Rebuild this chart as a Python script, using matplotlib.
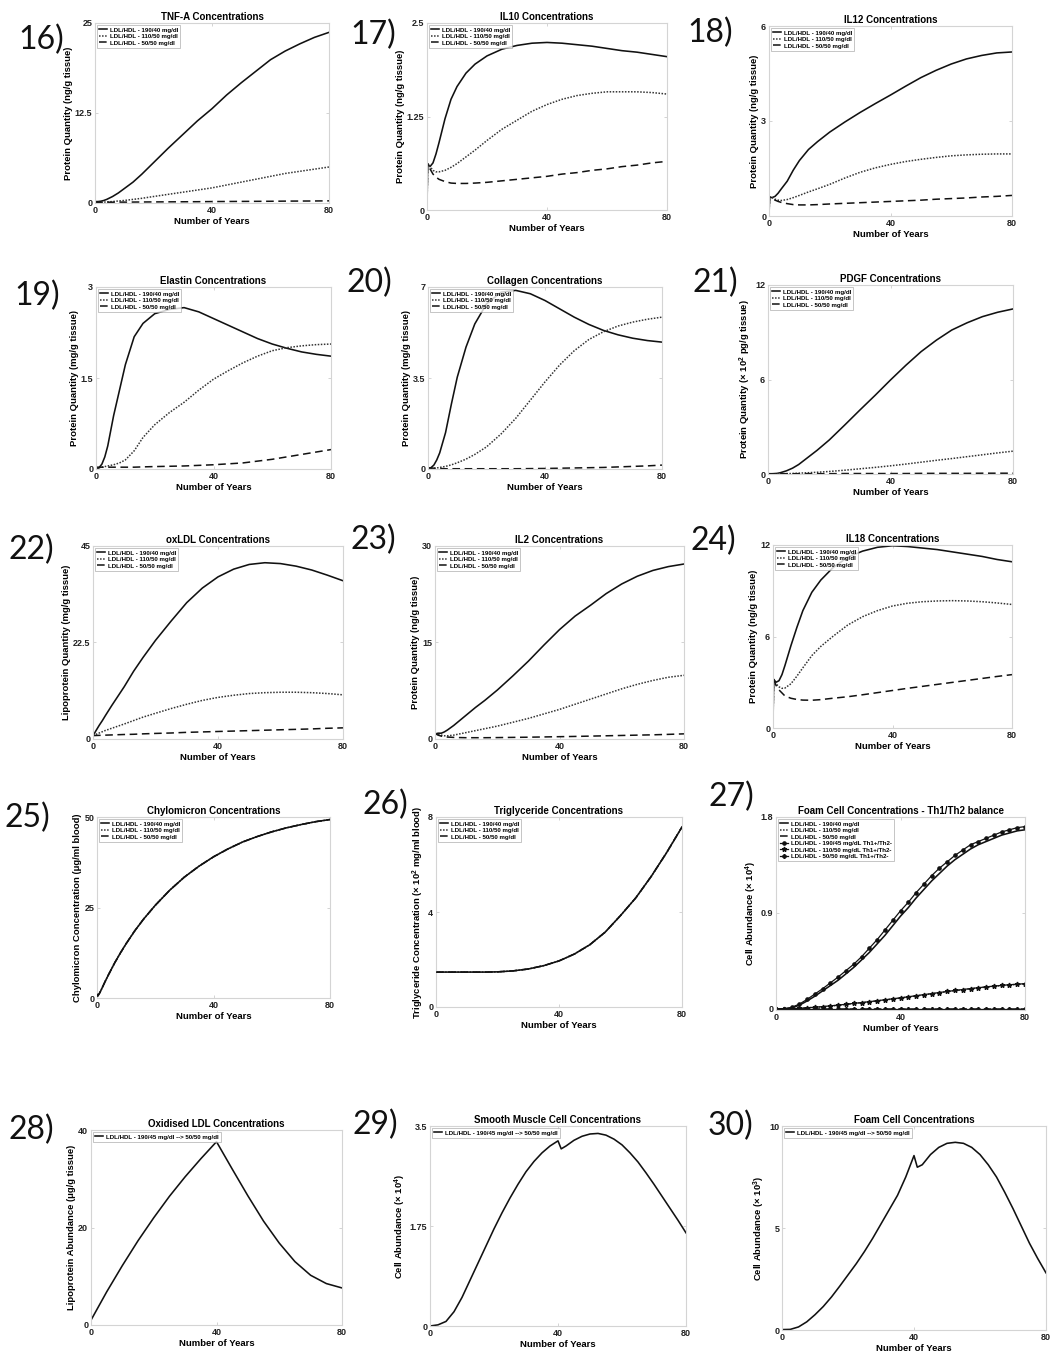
import numpy as np
import matplotlib
matplotlib.use('Agg')
import matplotlib.pyplot as plt

plt.rcParams['font.family'] = ['Liberation Sans', 'DejaVu Sans']
plt.rcParams['font.weight'] = 'bold'
plt.rcParams['mathtext.default'] = 'regular'

# ---------------- data ----------------
YEARS = [0, 0.2, 1, 2, 3, 4, 6, 8, 10, 13, 16, 20, 25, 30, 35, 40, 45, 50, 55, 60, 65, 70, 75, 80]

TNF_190 = [0.2, 0.2, 0.2, 0.25, 0.35, 0.5, 0.9, 1.4, 2.0, 2.9, 4.0, 5.6, 7.6, 9.5, 11.4, 13.1, 15.0, 16.7, 18.3, 19.9, 21.1, 22.1, 23.0, 23.7]
TNF_110 = [0.1, 0.1, 0.1, 0.1, 0.12, 0.15, 0.2, 0.28, 0.35, 0.5, 0.65, 0.9, 1.2, 1.5, 1.8, 2.1, 2.5, 2.9, 3.3, 3.7, 4.1, 4.4, 4.7, 5.0]
TNF_50 = [0.1, 0.1, 0.1, 0.1, 0.1, 0.11, 0.11, 0.12, 0.12, 0.13, 0.14, 0.15, 0.16, 0.17, 0.18, 0.2, 0.21, 0.22, 0.23, 0.24, 0.26, 0.27, 0.28, 0.3]

IL10_190 = [0, 0.62, 0.58, 0.63, 0.75, 0.9, 1.22, 1.48, 1.65, 1.83, 1.95, 2.06, 2.15, 2.2, 2.23, 2.24, 2.23, 2.21, 2.19, 2.16, 2.13, 2.11, 2.08, 2.05]
IL10_110 = [0, 0.62, 0.58, 0.53, 0.51, 0.51, 0.53, 0.57, 0.62, 0.71, 0.8, 0.93, 1.08, 1.2, 1.32, 1.41, 1.48, 1.53, 1.56, 1.58, 1.58, 1.58, 1.57, 1.55]
IL10_50 = [0, 0.6, 0.55, 0.48, 0.44, 0.41, 0.38, 0.36, 0.355, 0.355, 0.36, 0.37, 0.39, 0.41, 0.43, 0.45, 0.48, 0.5, 0.53, 0.55, 0.58, 0.6, 0.63, 0.65]

IL12_190 = [0, 0.6, 0.58, 0.62, 0.72, 0.85, 1.1, 1.45, 1.75, 2.1, 2.35, 2.65, 2.97, 3.27, 3.55, 3.82, 4.1, 4.37, 4.6, 4.8, 4.96, 5.07, 5.15, 5.18]
IL12_110 = [0, 0.6, 0.58, 0.53, 0.5, 0.49, 0.52, 0.58, 0.65, 0.76, 0.86, 1.0, 1.2, 1.38, 1.52, 1.63, 1.72, 1.79, 1.85, 1.9, 1.93, 1.95, 1.96, 1.96]
IL12_50 = [0, 0.6, 0.55, 0.5, 0.46, 0.43, 0.39, 0.36, 0.35, 0.35, 0.36, 0.38, 0.4, 0.42, 0.44, 0.46, 0.48, 0.5, 0.53, 0.55, 0.57, 0.6, 0.62, 0.65]

EL_190 = [0, 0, 0.02, 0.08, 0.2, 0.38, 0.88, 1.3, 1.72, 2.18, 2.4, 2.56, 2.63, 2.66, 2.59, 2.48, 2.37, 2.26, 2.15, 2.06, 1.99, 1.93, 1.89, 1.86]
EL_110 = [0, 0.01, 0.02, 0.03, 0.04, 0.05, 0.07, 0.1, 0.15, 0.3, 0.52, 0.73, 0.93, 1.1, 1.3, 1.48, 1.62, 1.75, 1.86, 1.95, 2.0, 2.03, 2.05, 2.06]
EL_50 = [0.03, 0.03, 0.03, 0.03, 0.03, 0.03, 0.03, 0.03, 0.03, 0.03, 0.035, 0.04, 0.045, 0.05, 0.06, 0.07, 0.085, 0.1, 0.13, 0.16, 0.2, 0.24, 0.28, 0.32]

COL_190 = [0, 0, 0.05, 0.15, 0.35, 0.62, 1.4, 2.5, 3.53, 4.69, 5.58, 6.35, 6.8, 6.87, 6.74, 6.48, 6.16, 5.84, 5.56, 5.33, 5.16, 5.03, 4.94, 4.88]
COL_110 = [0, 0.01, 0.02, 0.03, 0.04, 0.06, 0.1, 0.16, 0.24, 0.38, 0.56, 0.85, 1.35, 1.95, 2.65, 3.35, 4.0, 4.55, 4.98, 5.28, 5.5, 5.65, 5.76, 5.84]
COL_50 = [0.05, 0.05, 0.04, 0.03, 0.02, 0.02, 0.01, 0.01, 0.01, 0.01, 0.01, 0.01, 0.01, 0.01, 0.015, 0.02, 0.03, 0.04, 0.05, 0.06, 0.08, 0.1, 0.12, 0.15]

PDGF_190 = [0, 0, 0.01, 0.02, 0.04, 0.08, 0.2, 0.37, 0.6, 1.05, 1.5, 2.16, 3.1, 4.06, 5.0, 5.97, 6.9, 7.77, 8.5, 9.14, 9.6, 9.99, 10.27, 10.48]
PDGF_110 = [0, 0, 0, 0, 0.01, 0.01, 0.02, 0.03, 0.05, 0.08, 0.11, 0.16, 0.24, 0.33, 0.42, 0.52, 0.63, 0.75, 0.87, 0.98, 1.1, 1.22, 1.34, 1.45]
PDGF_50 = [0.02, 0.02, 0.02, 0.02, 0.02, 0.02, 0.02, 0.02, 0.02, 0.02, 0.02, 0.02, 0.03, 0.03, 0.03, 0.03, 0.03, 0.04, 0.04, 0.04, 0.04, 0.05, 0.05, 0.05]

OX_190 = [0.8, 1.0, 2.0, 3.2, 4.3, 5.5, 7.8, 10.0, 12.2, 15.8, 19.0, 23.0, 27.5, 31.8, 35.2, 37.8, 39.6, 40.7, 41.1, 40.9, 40.3, 39.4, 38.2, 36.9]
OX_110 = [0.8, 0.9, 1.1, 1.4, 1.7, 2.0, 2.5, 3.0, 3.5, 4.3, 5.1, 6.0, 7.1, 8.1, 9.0, 9.7, 10.2, 10.6, 10.8, 10.9, 10.9, 10.8, 10.6, 10.3]
OX_50 = [0.8, 0.8, 0.82, 0.85, 0.87, 0.9, 0.95, 1.0, 1.05, 1.1, 1.2, 1.3, 1.4, 1.55, 1.65, 1.75, 1.85, 1.95, 2.05, 2.15, 2.25, 2.35, 2.5, 2.6]

IL2_190 = [0.6, 0.8, 0.9, 0.9, 1.1, 1.4, 2.1, 2.9, 3.7, 4.9, 6.0, 7.6, 9.8, 12.1, 14.6, 17.0, 19.1, 20.8, 22.6, 24.1, 25.3, 26.2, 26.8, 27.2]
IL2_110 = [0.8, 0.8, 0.7, 0.6, 0.5, 0.5, 0.6, 0.8, 1.0, 1.3, 1.6, 2.0, 2.6, 3.2, 3.9, 4.6, 5.4, 6.2, 7.0, 7.8, 8.5, 9.1, 9.6, 9.9]
IL2_50 = [0.8, 0.8, 0.6, 0.45, 0.35, 0.3, 0.25, 0.22, 0.2, 0.2, 0.2, 0.22, 0.25, 0.28, 0.32, 0.36, 0.4, 0.45, 0.5, 0.55, 0.6, 0.65, 0.72, 0.8]

IL18_190 = [0, 3.2, 3.0, 3.1, 3.5, 4.1, 5.4, 6.6, 7.7, 8.9, 9.7, 10.5, 11.2, 11.6, 11.85, 11.95, 11.9, 11.8, 11.7, 11.55, 11.4, 11.25, 11.05, 10.9]
IL18_110 = [0, 3.2, 2.9, 2.7, 2.6, 2.62, 2.9, 3.4, 3.95, 4.75, 5.35, 6.0, 6.75, 7.3, 7.7, 8.0, 8.18, 8.28, 8.33, 8.35, 8.33, 8.28, 8.2, 8.1]
IL18_50 = [0, 3.2, 2.8, 2.5, 2.3, 2.1, 1.95, 1.87, 1.83, 1.82, 1.86, 1.95, 2.05, 2.18, 2.32, 2.46, 2.6, 2.73, 2.86, 2.99, 3.12, 3.25, 3.38, 3.5]

CHYLO = [1.0, 0.5, 1.5, 3.2, 4.9, 6.5, 9.6, 12.4, 15.0, 18.6, 21.8, 25.6, 29.8, 33.4, 36.4, 39.0, 41.2, 43.1, 44.6, 45.9, 47.0, 47.9, 48.7, 49.3]
TRIG = [1.47, 1.47, 1.47, 1.47, 1.47, 1.47, 1.47, 1.47, 1.47, 1.47, 1.47, 1.48, 1.52, 1.6, 1.74, 1.94, 2.23, 2.62, 3.15, 3.85, 4.6, 5.5, 6.5, 7.58]

YEARS_27 = [0, 2.5, 5, 7.5, 10, 12.5, 15, 17.5, 20, 22.5, 25, 27.5, 30, 32.5, 35, 37.5, 40,
            42.5, 45, 47.5, 50, 52.5, 55, 57.5, 60, 62.5, 65, 67.5, 70, 72.5, 75, 77.5, 80]
FOAM_190 = [0, 0.0, 0.01, 0.035, 0.075, 0.12, 0.17, 0.22, 0.27, 0.33, 0.39, 0.46, 0.53, 0.61, 0.69, 0.78, 0.87,
            0.95, 1.04, 1.12, 1.2, 1.27, 1.34, 1.4, 1.45, 1.5, 1.54, 1.57, 1.6, 1.63, 1.65, 1.67, 1.68]
FOAM_110 = [0, 0, 0.002, 0.005, 0.01, 0.015, 0.02, 0.027, 0.034, 0.042, 0.05, 0.058, 0.066, 0.075, 0.084, 0.093, 0.102,
            0.112, 0.122, 0.132, 0.142, 0.152, 0.162, 0.171, 0.18, 0.189, 0.197, 0.205, 0.212, 0.219, 0.225, 0.23, 0.235]
FOAM_50 = [0, 0, 0, 0, 0, 0, 0, 0, 0, 0, 0, 0, 0, 0, 0, 0, 0,
           0, 0, 0, 0, 0, 0, 0, 0, 0, 0, 0, 0, 0, 0, 0, 0]
FOAM_190_TH = [0, 0.0, 0.015, 0.045, 0.09, 0.14, 0.19, 0.245, 0.3, 0.36, 0.42, 0.49, 0.57, 0.65, 0.74, 0.83, 0.92,
               1.0, 1.09, 1.17, 1.25, 1.32, 1.38, 1.44, 1.49, 1.54, 1.57, 1.6, 1.63, 1.66, 1.68, 1.7, 1.71]
FOAM_110_TH = [0, 0, 0.002, 0.006, 0.011, 0.016, 0.022, 0.029, 0.036, 0.044, 0.052, 0.06, 0.068, 0.077, 0.086, 0.095, 0.104,
               0.114, 0.124, 0.134, 0.144, 0.154, 0.164, 0.173, 0.182, 0.191, 0.199, 0.207, 0.214, 0.221, 0.227, 0.232, 0.237]
FOAM_50_TH = [0, 0, 0, 0, 0, 0, 0, 0, 0, 0, 0, 0, 0, 0, 0, 0, 0,
              0, 0, 0, 0, 0, 0, 0, 0, 0, 0, 0, 0, 0, 0, 0, 0]

YEARS_28 = [0, 5, 10, 15, 20, 25, 30, 35, 40, 45, 50, 55, 60, 65, 70, 75, 80]
OXLDL_SWITCH = [1.0, 6.8, 12.2, 17.3, 22.0, 26.4, 30.4, 34.1, 37.6, 32.0, 26.5, 21.3, 16.8, 13.0, 10.2, 8.5, 7.6]

YEARS_SW = [0, 2.5, 5, 7.5, 10, 12.5, 15, 17.5, 20, 22.5, 25, 27.5, 30, 32.5, 35, 37.5, 40, 41,
            42.5, 45, 47.5, 50, 52.5, 55, 57.5, 60, 62.5, 65, 67.5, 70, 72.5, 75, 77.5, 80]
SMC_SWITCH = [0, 0.02, 0.08, 0.25, 0.5, 0.8, 1.1, 1.4, 1.7, 1.98, 2.24, 2.48, 2.7, 2.88, 3.03, 3.15, 3.24, 3.1,
              3.15, 3.25, 3.32, 3.36, 3.37, 3.34, 3.27, 3.17, 3.03, 2.87, 2.68, 2.48, 2.27, 2.06, 1.85, 1.63]
FOAM_SWITCH = [0.02, 0.03, 0.15, 0.4, 0.75, 1.15, 1.62, 2.15, 2.7, 3.25, 3.85, 4.5, 5.2, 5.9, 6.6, 7.5, 8.55, 7.98,
               8.1, 8.6, 8.95, 9.15, 9.2, 9.15, 8.95, 8.6, 8.1, 7.5, 6.75, 5.95, 5.1, 4.25, 3.5, 2.8]

LABELS3 = ['LDL/HDL - 190/40 mg/dl', 'LDL/HDL - 110/50 mg/dl', 'LDL/HDL - 50/50 mg/dl']
LABELS_TH = ['LDL/HDL - 190/45 mg/dL Th1+/Th2-', 'LDL/HDL - 110/50 mg/dL Th1+/Th2-', 'LDL/HDL - 50/50 mg/dL Th1+/Th2-']
LABEL_SWITCH = 'LDL/HDL - 190/45 mg/dl --> 50/50 mg/dl'

# ---------------- layout ----------------
W, H = 1052, 1358
fig = plt.figure(figsize=(W / 100, H / 100), dpi=100)

SOLID = dict(color='#111111', lw=1.15, ls='-')
DOT = dict(color='#333333', lw=1.1, ls=(0, (1, 1)))
DASH = dict(color='#111111', lw=1.1, ls=(0, (5, 3)))


def make_axes(box):
    x0, y0, x1, y1 = box
    return fig.add_axes([x0 / W, 1 - y1 / H, (x1 - x0) / W, (y1 - y0) / H])


def style(ax, title, ylabel, ymax, ylabels):
    ax.set_xlim(0, 80)
    ax.set_ylim(0, ymax)
    ax.set_xticks([0, 40, 80])
    ax.set_xticklabels(['0', '40', '80'])
    ax.set_yticks([0, ymax / 2, ymax])
    ax.set_yticklabels(ylabels)
    for s in ax.spines.values():
        s.set_color('#d4d4d4')
        s.set_linewidth(0.8)
    ax.tick_params(direction='in', length=2.5, width=0.6, color='#cccccc',
                   labelsize=6.5, pad=2, top=True, right=True, labelcolor='#222222')
    ax.set_title(title, fontsize=7, fontweight='bold', pad=2.5)
    ax.set_xlabel('Number of Years', fontsize=6.8, fontweight='bold', labelpad=1.5)
    ax.set_ylabel(ylabel, fontsize=6.8, fontweight='bold', labelpad=1.5)


def legend(ax, handles=None, labels=None):
    kw = dict(loc='upper left', prop={'size': 4.4, 'weight': 'bold'}, frameon=True,
              fancybox=False, borderpad=0.35, handlelength=1.3, handletextpad=0.4,
              labelspacing=0.2, borderaxespad=0.35)
    if handles is None:
        leg = ax.legend(**kw)
    else:
        leg = ax.legend(handles, labels, **kw)
    leg.get_frame().set_edgecolor('#9a9a9a')
    leg.get_frame().set_linewidth(0.5)
    leg.set_zorder(10)


three_panels = [
    ((95, 23, 329, 203), 'TNF-A Concentrations', 'Protein Quantity (ng/g tissue)', 25, ['0', '12.5', '25'], TNF_190, TNF_110, TNF_50),
    ((427, 23, 667, 210), 'IL10 Concentrations', 'Protein Quantity (ng/g tissue)', 2.5, ['0', '1.25', '2.5'], IL10_190, IL10_110, IL10_50),
    ((769, 26, 1012, 216), 'IL12 Concentrations', 'Protein Quantity (ng/g tissue)', 6, ['0', '3', '6'], IL12_190, IL12_110, IL12_50),
    ((96, 287, 331, 469), 'Elastin Concentrations', 'Protein Quantity (mg/g tissue)', 3, ['0', '1.5', '3'], EL_190, EL_110, EL_50),
    ((428, 287, 662, 469), 'Collagen Concentrations', 'Protein Quantity (mg/g tissue)', 7, ['0', '3.5', '7'], COL_190, COL_110, COL_50),
    ((768, 285, 1013, 474), 'PDGF Concentrations', 'Protein Quantity (× 10$^{2}$ pg/g tissue)', 12, ['0', '6', '12'], PDGF_190, PDGF_110, PDGF_50),
    ((93, 546, 343, 739), 'oxLDL Concentrations', 'Lipoprotein Quantity (mg/g tissue)', 45, ['0', '22.5', '45'], OX_190, OX_110, OX_50),
    ((435, 546, 684, 739), 'IL2 Concentrations', 'Protein Quantity (ng/g tissue)', 30, ['0', '15', '30'], IL2_190, IL2_110, IL2_50),
    ((773, 545, 1012, 728), 'IL18 Concentrations', 'Protein Quantity (ng/g tissue)', 12, ['0', '6', '12'], IL18_190, IL18_110, IL18_50),
    ((97, 817, 330, 998), 'Chylomicron Concentrations', 'Chylomicron Concentration (μg/ml blood)', 50, ['0', '25', '50'], CHYLO, CHYLO, CHYLO),
    ((436, 817, 682, 1007), 'Triglyceride Concentrations', 'Triglyceride Concentration (× 10$^{2}$ mg/ml blood)', 8, ['0', '4', '8'], TRIG, TRIG, TRIG),
]

for box, title, ylabel, ymax, ylab, s1, s2, s3 in three_panels:
    ax = make_axes(box)
    if s1 is s2:
        # identical curves: dashed and dotted lie beneath the solid line
        ax.plot(YEARS, s3, **DASH, label=LABELS3[2], zorder=1)
        ax.plot(YEARS, s2, **DOT, label=LABELS3[1], zorder=2)
        ax.plot(YEARS, s1, **SOLID, label=LABELS3[0], zorder=3)
        style(ax, title, ylabel, ymax, ylab)
        h, l = ax.get_legend_handles_labels()
        legend(ax, h[::-1], l[::-1])
    else:
        ax.plot(YEARS, s1, **SOLID, label=LABELS3[0])
        ax.plot(YEARS, s2, **DOT, label=LABELS3[1])
        ax.plot(YEARS, s3, **DASH, label=LABELS3[2])
        style(ax, title, ylabel, ymax, ylab)
        legend(ax)

# Panel 27: Th1/Th2 balance
ax = make_axes((776, 817, 1025, 1010))
ax.plot(YEARS_27, FOAM_190, **SOLID, label=LABELS3[0])
ax.plot(YEARS_27, FOAM_110, **DOT, label=LABELS3[1])
ax.plot(YEARS_27, FOAM_50, **DASH, label=LABELS3[2])
ax.plot(YEARS_27, FOAM_190_TH, color='#111111', lw=0.9, marker='o', ms=2.3, label=LABELS_TH[0])
ax.plot(YEARS_27, FOAM_110_TH, color='#111111', lw=0.9, marker='*', ms=3.5, label=LABELS_TH[1])
ax.plot(YEARS_27, FOAM_50_TH, color='#111111', lw=0.9, marker='P', ms=2.6, label=LABELS_TH[2])
style(ax, 'Foam Cell Concentrations - Th1/Th2 balance', 'Cell Abundance (× 10$^{4}$)', 1.8, ['0', '0.9', '1.8'])
ax.set_ylim(-0.01, 1.8)
legend(ax)

# Panels 28-30: LDL/HDL switch at year 40
switch_panels = [
    ((91, 1130, 342, 1325), 'Oxidised LDL Concentrations', 'Lipoprotein Abundance (μg/g tissue)', 40, ['0', '20', '40'], YEARS_28, OXLDL_SWITCH),
    ((430, 1126, 686, 1326), 'Smooth Muscle Cell Concentrations', 'Cell Abundance (× 10$^{4}$)', 3.5, ['0', '1.75', '3.5'], YEARS_SW, SMC_SWITCH),
    ((782, 1126, 1046, 1330), 'Foam Cell Concentrations', 'Cell Abundance (× 10$^{3}$)', 10, ['0', '5', '10'], YEARS_SW, FOAM_SWITCH),
]
for box, title, ylabel, ymax, ylab, xs, ys in switch_panels:
    ax = make_axes(box)
    ax.plot(xs, ys, **SOLID, label=LABEL_SWITCH)
    style(ax, title, ylabel, ymax, ylab)
    legend(ax)

# Panel numbers
PANEL_NUMS = ['16)', '17)', '18)', '19)', '20)', '21)', '22)', '23)', '24)', '25)', '26)', '27)', '28)', '29)', '30)']
NUM_POS = [(18, 40), (350, 35), (687, 33), (14, 296), (347, 283), (692, 283),
           (8, 550), (351, 540), (690, 541), (5, 818), (362, 805), (708, 797),
           (8, 1130), (352, 1125), (708, 1126)]
for txt, (px, py) in zip(PANEL_NUMS, NUM_POS):
    fig.text(px / W, 1 - py / H, txt, fontsize=23, fontweight='normal',
             family=['Lato', 'DejaVu Sans'], ha='left', va='center', color='#111111')

fig.savefig('out.png', dpi=100, facecolor='white')
